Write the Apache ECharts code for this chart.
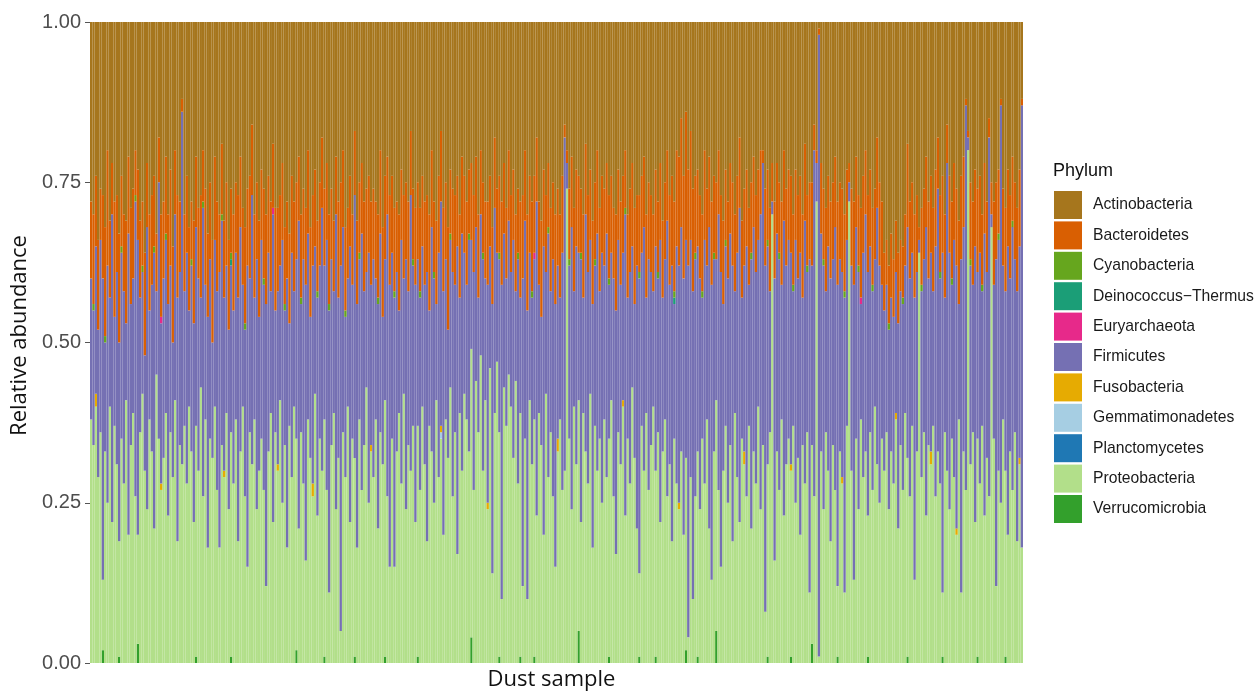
<!DOCTYPE html>
<html>
<head>
<meta charset="utf-8">
<script src="https://cdn.jsdelivr.net/npm/echarts@6/dist/echarts.min.js"></script>
<style>
html,body{margin:0;padding:0;background:#fff;}
#chart{width:1257px;height:693px;}
</style>
</head>
<body>
<div id="chart"></div>
<script>
// Relative abundance per dust sample, in percent
const proteobacteria = [
38,34,40,29,36,11,33,25,40,22,37,31,18,35,28,41,20,34,39,26,
17,36,42,30,24,38,33,21,45,35,27,32,39,23,36,29,41,19,34,31,
37,28,40,33,22,36,30,43,26,38,18,35,32,40,27,18,34,29,39,24,
35,28,38,19,33,40,26,15,36,31,38,24,30,35,27,12,33,39,22,36,
30,41,25,34,18,37,29,40,33,21,36,28,16,38,32,26,42,23,35,30,
37,27,11,34,39,24,32,5,36,29,40,22,35,31,18,38,27,34,43,25,
33,29,38,21,36,31,40,26,15,35,15,33,39,28,42,24,34,30,37,22,
36,27,40,31,19,37,33,25,41,29,35,20,38,32,43,26,36,17,39,30,
42,38,33,45,27,44,36,48,30,41,24,46,14,39,47,35,10,43,37,45,
40,32,44,28,38,12,35,10,41,31,37,23,39,34,20,42,29,36,26,15,
33,38,27,30,74,35,24,40,31,36,22,39,33,28,42,18,37,30,35,25,
38,29,34,41,26,17,36,31,40,23,35,28,43,32,21,13,37,30,39,27,
34,40,29,36,22,33,38,26,31,19,35,28,24,33,20,30,4,29,10,26,
32,24,35,28,38,21,13,33,36,27,15,30,37,25,34,19,39,29,22,35,
31,26,37,21,33,28,40,24,34,8,30,36,70,16,33,27,38,23,31,35,
29,37,25,32,20,34,28,36,11,31,26,72,1,33,24,36,30,19,34,27,
11,33,28,11,37,72,30,13,35,24,38,29,33,22,36,27,40,31,25,35,
30,36,24,33,28,38,21,34,27,39,31,26,37,13,33,64,29,36,23,34,
31,37,26,33,28,10,36,30,24,35,29,20,38,11,33,27,80,31,36,22,
34,28,37,23,32,26,68,35,12,30,25,38,29,20,33,27,36,19,31,18];
const firmicutes = [
22,21,23,23,30,47,17,37,17,48,17,30,31,29,30,12,47,22,21,46,
46,21,19,18,44,17,26,43,13,40,25,28,27,33,26,21,29,38,27,55,
21,36,15,29,31,31,30,14,45,21,36,28,18,26,31,43,35,27,23,28,
26,27,26,38,35,19,26,47,24,42,19,39,24,31,32,44,31,19,48,19,
27,21,41,21,42,16,35,18,28,48,20,35,43,29,22,34,23,34,27,41,
24,39,44,29,19,46,25,57,32,25,20,43,24,41,38,25,40,24,18,39,
25,34,22,35,31,23,22,44,44,29,42,28,16,38,18,39,24,43,25,37,
26,30,25,28,42,18,35,35,15,35,35,38,25,20,23,35,23,48,18,37,
22,21,33,17,34,24,21,22,33,19,34,19,42,32,17,27,49,24,23,24,
21,34,14,35,18,48,34,45,23,26,25,49,20,20,45,19,38,22,37,41,
27,19,37,52,4,27,44,18,34,23,41,18,37,33,24,38,25,37,23,39,
24,38,24,23,34,38,30,28,23,47,22,33,22,24,41,46,27,38,18,36,
27,18,35,24,44,24,25,43,28,43,21,37,37,35,40,34,58,37,48,37,
32,36,22,38,24,47,46,30,22,43,46,26,28,35,33,43,19,35,49,22,
29,39,22,42,35,33,26,46,44,54,34,22,2,44,34,36,21,46,31,31,
33,21,41,28,44,23,41,25,52,28,54,6,97,34,38,22,35,41,29,41,
47,30,32,46,29,3,32,46,33,37,18,35,37,38,29,31,23,40,37,24,
25,23,28,24,26,22,32,24,29,23,36,34,27,44,28,2,29,27,45,26,
31,21,39,41,32,53,21,48,40,24,37,41,18,52,35,60,2,31,23,43,
26,36,21,44,29,56,2,24,51,36,62,24,28,45,27,41,27,39,33,69];
const bacteroidetes = [
12,14,11,14,8,13,17,18,12,8,18,12,17,11,12,16,12,15,14,7,
11,12,10,16,10,15,14,11,9,7,16,12,12,14,15,15,10,16,11,2,
12,12,13,9,16,11,11,16,8,15,13,12,16,13,14,9,11,12,13,14,
10,15,11,16,11,12,15,12,16,11,13,12,15,11,14,14,12,14,10,16,
13,11,12,12,12,14,12,14,12,10,13,11,12,13,14,11,12,11,13,11,
12,12,14,11,11,9,15,13,12,13,11,11,11,10,13,11,11,14,13,12,
13,11,12,13,13,14,13,9,14,12,13,11,15,11,13,12,14,10,11,12,
12,13,11,13,12,15,12,11,13,12,11,13,12,16,10,13,14,11,13,12,
12,13,10,12,12,11,13,10,11,12,13,11,12,11,10,12,13,11,11,11,
12,11,12,10,15,13,11,15,12,14,12,10,13,15,12,12,10,13,12,14,
12,13,12,2,2,11,11,13,12,12,10,13,11,12,11,13,12,13,13,12,
12,11,13,12,11,15,11,13,12,9,13,13,13,15,11,12,12,11,13,12,
12,12,12,11,12,12,12,11,14,14,14,15,17,17,16,20,15,17,16,12,
12,13,12,14,12,11,13,12,12,10,12,13,11,12,11,13,12,12,11,12,
12,12,12,11,11,12,11,10,2,12,11,13,6,12,11,11,13,11,12,11,
12,11,11,13,12,13,12,11,12,13,4,2,1,11,11,13,11,12,12,11,
13,12,13,12,11,3,12,13,11,11,14,12,10,12,12,12,11,11,13,13,
9,7,9,10,9,8,11,8,8,8,13,12,11,13,12,2,12,11,11,12,
12,13,12,8,12,12,13,6,12,12,12,12,13,13,11,1,1,12,13,12,
13,12,11,11,11,3,5,13,12,10,1,12,13,12,13,10,12,13,12,1];
const actinobacteria = [
28,30,24,34,26,27,32,20,31,22,28,27,33,24,30,31,21,29,26,20,
23,31,28,36,22,30,27,24,33,18,30,28,21,30,23,35,20,27,28,12,
30,24,32,28,31,21,29,27,20,26,33,25,34,21,28,30,19,31,25,34,
26,30,25,27,21,29,32,26,24,16,30,25,31,23,26,30,24,28,19,29,
29,27,22,32,28,33,24,28,25,21,30,26,29,20,32,27,23,31,25,18,
26,22,30,26,31,21,28,25,20,32,29,24,30,17,31,25,22,28,26,24,
28,26,28,30,20,32,24,21,27,24,29,28,30,23,27,25,28,17,26,29,
25,29,24,28,27,30,20,28,31,24,17,29,25,32,23,26,27,24,30,21,
24,28,23,22,27,21,30,20,25,28,28,24,32,18,26,24,28,22,29,20,
27,23,30,26,28,27,20,30,24,28,24,18,28,31,23,27,22,29,25,30,
26,30,24,16,20,26,21,29,23,24,26,30,19,27,23,31,25,20,29,24,
26,22,27,24,29,30,23,28,24,20,30,26,22,29,27,27,24,21,30,25,
27,30,23,28,22,31,25,20,27,24,28,20,21,15,24,14,23,17,26,24,
23,27,30,20,26,21,28,24,25,20,27,31,23,28,22,25,30,24,18,31,
26,23,29,25,21,27,23,20,20,26,23,29,22,28,22,25,28,20,26,23,
24,30,23,27,24,30,19,27,25,25,16,20,1,22,26,29,24,28,25,21,
28,25,26,30,23,22,26,28,21,27,29,24,20,27,23,29,26,18,25,28,
36,34,38,33,37,31,36,34,35,30,19,28,25,30,27,32,29,26,21,28,
24,29,23,18,27,24,30,16,24,28,22,26,31,24,21,12,17,25,28,23,
26,24,30,22,28,15,25,28,25,23,12,26,29,23,27,21,25,29,23,12];
// Rare phyla: [sample index, percent]
const cyanobacteriaPts = [[1,1],[6,1],[13,1],[19,1],[22,1],[27,1],[32,1],[43,1],[48,1],[56,1],[60,1],[66,1],[74,1],[83,1],[90,1],[97,1],[102,1],[109,1],[115,1],[123,1],[130,1],[138,1],[141,1],[147,1],[154,1],[162,1],[168,1],[175,1],[183,1],[189,1],[196,1],[205,1],[210,1],[216,1],[222,1],[229,1],[235,1],[243,1],[250,1],[259,1],[262,1],[267,1],[272,1],[283,1],[290,1],[295,1],[301,1],[307,1],[314,1],[323,1],[329,1],[335,1],[342,1],[348,1],[356,1],[364,1],[369,1],[377,1],[382,1],[389,1],[395,1]];
const verrucomicrobiaPts = [[5,2],[12,1],[20,3],[45,1],[60,1],[88,2],[100,1],[113,1],[126,1],[140,1],[163,4],[175,1],[184,1],[190,1],[209,5],[222,1],[235,1],[242,1],[255,2],[260,1],[268,5],[290,1],[300,1],[309,3],[320,1],[333,1],[350,1],[365,1],[380,1],[392,1]];
const fusobacteriaPts = [[2,2],[30,1],[57,1],[80,1],[95,2],[120,1],[150,1],[170,1],[200,2],[228,1],[252,1],[280,2],[300,1],[322,1],[345,1],[360,2],[371,1],[398,1]];
const euryarchaeotaPts = [[30,1],[78,1],[190,1],[330,1]];
const deinococcusPts = [[60,1],[250,1]];
const gemmatimonadetesPts = [[150,1]];
const planctomycetesPts = [];

const phyla = ['Actinobacteria','Bacteroidetes','Cyanobacteria','Deinococcus\u2212Thermus','Euryarchaeota','Firmicutes','Fusobacteria','Gemmatimonadetes','Planctomycetes','Proteobacteria','Verrucomicrobia'];
const phylumColors = ['#A6761D','#D95F02','#66A61E','#1B9E77','#E7298A','#7570B3','#E6AB02','#A6CEE3','#1F78B4','#B2DF8A','#33A02C'];
const yTickLabels = ['0.00','0.25','0.50','0.75','1.00'];

const n = proteobacteria.length;
const samples = proteobacteria.map((_, i) => 'S' + (i + 1));
function fromPts(pts){ const a = new Array(n).fill(0); pts.forEach(p => { a[p[0]] = p[1]; }); return a; }

const valuesByPhylum = {
  'Actinobacteria': actinobacteria,
  'Bacteroidetes': bacteroidetes,
  'Cyanobacteria': fromPts(cyanobacteriaPts),
  'Deinococcus\u2212Thermus': fromPts(deinococcusPts),
  'Euryarchaeota': fromPts(euryarchaeotaPts),
  'Firmicutes': firmicutes,
  'Fusobacteria': fromPts(fusobacteriaPts),
  'Gemmatimonadetes': fromPts(gemmatimonadetesPts),
  'Planctomycetes': fromPts(planctomycetesPts),
  'Proteobacteria': proteobacteria,
  'Verrucomicrobia': fromPts(verrucomicrobiaPts)
};

// stack bottom-up: reverse of legend order (ggplot stacking)
const series = phyla.slice().reverse().map(name => ({
  name: name,
  type: 'bar',
  stack: 'total',
  data: valuesByPhylum[name],
  barCategoryGap: '0%',
  itemStyle: { color: phylumColors[phyla.indexOf(name)] },
  emphasis: { disabled: true },
  large: false
}));

const chart = echarts.init(document.getElementById('chart'), null, { renderer: 'canvas' });
chart.setOption({
  animation: false,
  backgroundColor: '#ffffff',
  grid: { left: 90, right: 234, top: 22, bottom: 30, containLabel: false, outerBoundsMode: 'none' },
  xAxis: {
    type: 'category',
    data: samples,
    name: 'Dust sample',
    nameLocation: 'middle',
    nameGap: 6,
    nameTextStyle: { fontFamily: 'Open Sans', fontSize: 22, color: '#111', padding: [0, 10, 0, 0] },
    axisLine: { show: false },
    axisTick: { show: false },
    axisLabel: { show: false },
    splitLine: { show: false }
  },
  yAxis: {
    type: 'value',
    min: 0, max: 100, interval: 25,
    name: 'Relative abundance',
    nameLocation: 'middle',
    nameRotate: 90,
    nameGap: 56,
    nameTextStyle: { fontFamily: 'Open Sans', fontSize: 22, color: '#111', padding: [0, 0, 0, 14] },
    axisLine: { show: false },
    axisTick: { show: true, length: 5, lineStyle: { color: '#555', width: 1 } },
    axisLabel: {
      margin: 9,
      fontFamily: 'Liberation Sans', fontSize: 20, color: '#4D4D4D',
      formatter: v => yTickLabels[Math.round(v / 25)]
    },
    splitLine: { show: false }
  },
  legend: {
    data: phyla,
    orient: 'vertical',
    left: 1054,
    top: 191,
    padding: 0,
    icon: 'rect',
    itemWidth: 28,
    itemHeight: 28,
    itemGap: 2.4,
    selectedMode: false,
    textStyle: { fontFamily: 'Liberation Sans', fontSize: 15.7, color: '#1a1a1a', padding: [0,0,0,6] }
  },
  graphic: [{
    type: 'text', left: 1053, top: 162,
    style: { text: 'Phylum', fontFamily: 'Liberation Sans', fontSize: 18, fill: '#111' }
  }],
  series: series
});
</script>
</body>
</html>
